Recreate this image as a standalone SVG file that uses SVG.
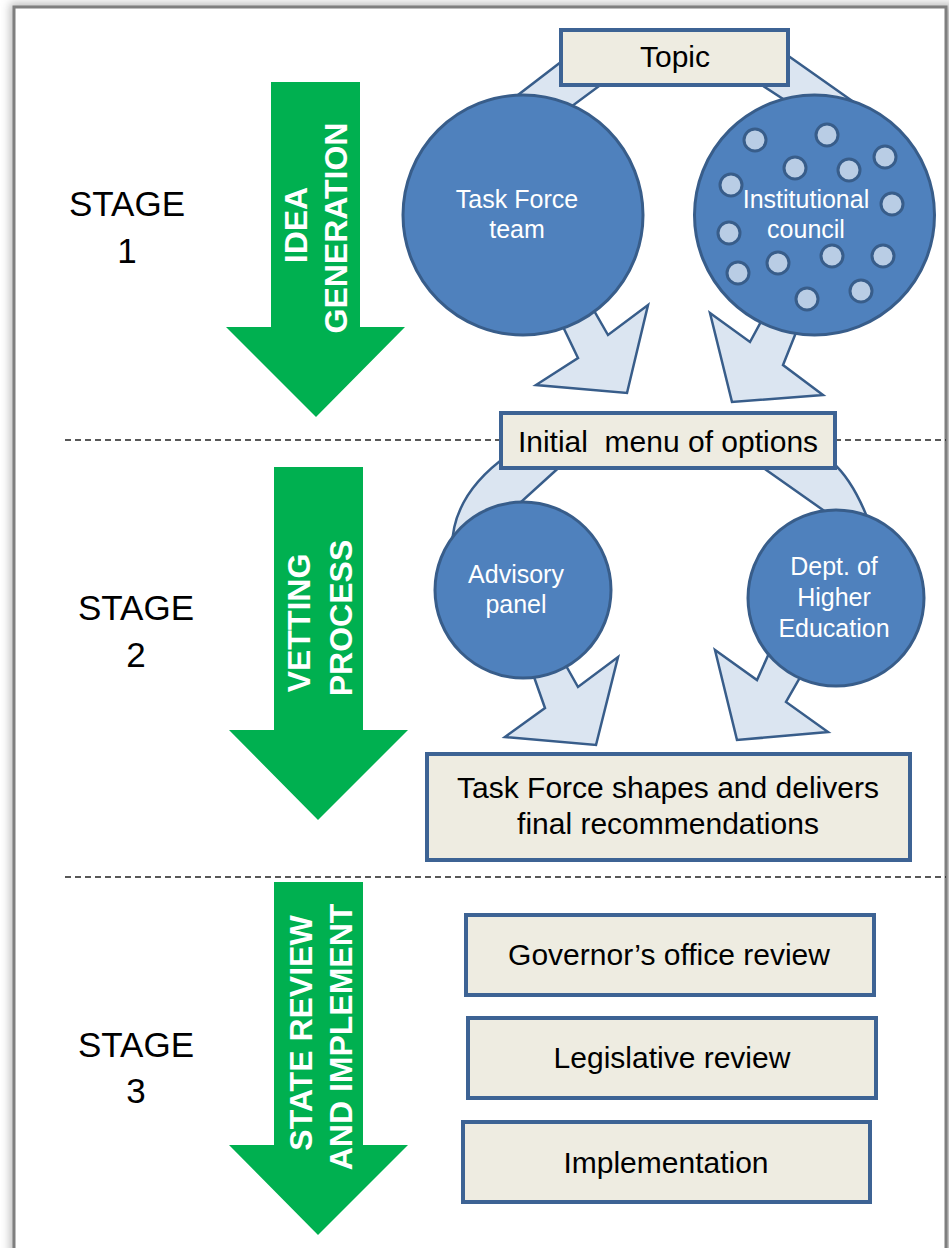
<svg xmlns="http://www.w3.org/2000/svg" width="949" height="1248" viewBox="0 0 949 1248">
<defs>
<filter id="sh" x="-5%" y="-5%" width="110%" height="110%"><feGaussianBlur stdDeviation="5"/></filter>
<style>
.stage{font-family:"Liberation Sans",Arial,sans-serif;font-size:35px;fill:#000;text-anchor:middle}
.garrow{fill:#00b050}
.gtxt{font-family:"Liberation Sans",Arial,sans-serif;font-size:32px;font-weight:bold;fill:#fff;text-anchor:middle}
.circ{fill:#4f81bd;stroke:#385d8a;stroke-width:3}
.ctxt{font-family:"Liberation Sans",Arial,sans-serif;font-size:25px;fill:#fff;text-anchor:middle}
.dot{fill:#b9cde5;stroke:#385d8a;stroke-width:3}
.box{fill:#eeece1;stroke:#3d6394;stroke-width:4}
.btxt{font-family:"Liberation Sans",Arial,sans-serif;font-size:30px;fill:#000;text-anchor:middle}
.larrow{fill:#dbe5f1;stroke:#385d8a;stroke-width:2.5;stroke-linejoin:miter}
.dash{stroke:#222;stroke-width:1.5;stroke-dasharray:6 4;fill:none}
</style>
</defs>
<rect x="0" y="0" width="949" height="1248" fill="#ffffff"/>
<rect x="10" y="3" width="945" height="1260" fill="#bbbbbb" filter="url(#sh)"/>
<path d="M14,1260 V7 H946 V1260 Z" fill="#ffffff" stroke="#7f7f7f" stroke-width="3"/>

<g id="separators">
<line class="dash" x1="65" y1="440" x2="946" y2="440"/>
<line class="dash" x1="65" y1="877" x2="946" y2="877"/>
</g>

<g id="stage1-label"><text class="stage" x="127" y="216">STAGE</text><text class="stage" x="127" y="263">1</text></g>
<g id="stage2-label"><text class="stage" x="136" y="620">STAGE</text><text class="stage" x="136" y="667">2</text></g>
<g id="stage3-label"><text class="stage" x="136" y="1057">STAGE</text><text class="stage" x="136" y="1103">3</text></g>

<g id="arrow-idea">
<path class="garrow" d="M271,82 H360 V327 H405 L316,417 L226,327 H271 Z"/>
<text class="gtxt" transform="translate(307,225) rotate(-90)">IDEA</text>
<text class="gtxt" transform="translate(347,228) rotate(-90)">GENERATION</text>
</g>
<g id="arrow-vetting">
<path class="garrow" d="M274,467 H363 V730 H408 L318,820 L229,730 H274 Z"/>
<text class="gtxt" transform="translate(310,623) rotate(-90)">VETTING</text>
<text class="gtxt" transform="translate(352,618) rotate(-90)">PROCESS</text>
</g>
<g id="arrow-state">
<path class="garrow" d="M274,882 H363 V1145 H408 L318,1235 L229,1145 H274 Z"/>
<text class="gtxt" transform="translate(312,1033) rotate(-90)">STATE REVIEW</text>
<text class="gtxt" transform="translate(352,1037) rotate(-90)">AND IMPLEMENT</text>
</g>

<g id="connectors">
<path class="larrow" d="M505,105 L570,55 L610,78 L560,115 Z"/>
<path class="larrow" d="M770,43 L865,110 L800,110 L740,71 Z"/>
<path class="larrow" d="M555,310 L578,358 L536,385 L627,393 L648,305 L608,335 L585,295 Z"/>
<path class="larrow" d="M770,305 L750,342 L710,313 L732,402 L823,395 L783,365 L805,310 Z"/>
<path class="larrow" d="M565,462 L510,512 L470,570 L452,548 Q452,495 508,455 Z"/>
<path class="larrow" d="M755,462 L832,462 Q855,482 872,530 L840,522 Z"/>
<path class="larrow" d="M560,655 L578,687 L618,657 L596,745 L505,737 L545,708 L528,660 Z"/>
<path class="larrow" d="M775,640 L757,680 L715,650 L737,740 L828,732 L786,702 L810,660 Z"/>
</g>

<g id="task-force-team">
<circle class="circ" cx="523" cy="215" r="120"/>
<text class="ctxt" x="517" y="208">Task Force</text>
<text class="ctxt" x="517" y="238">team</text>
</g>
<g id="institutional-council">
<circle class="circ" cx="814.5" cy="215" r="120"/>
<circle class="dot" cx="755" cy="140" r="11"/>
<circle class="dot" cx="827" cy="135" r="11"/>
<circle class="dot" cx="795" cy="168" r="11"/>
<circle class="dot" cx="849" cy="170" r="11"/>
<circle class="dot" cx="885" cy="157" r="11"/>
<circle class="dot" cx="731" cy="185" r="11"/>
<circle class="dot" cx="892" cy="204" r="11"/>
<circle class="dot" cx="729" cy="233" r="11"/>
<circle class="dot" cx="832" cy="256" r="11"/>
<circle class="dot" cx="778" cy="263" r="11"/>
<circle class="dot" cx="883" cy="256" r="11"/>
<circle class="dot" cx="738" cy="273" r="11"/>
<circle class="dot" cx="861" cy="291" r="11"/>
<circle class="dot" cx="807" cy="299" r="11"/>
<text class="ctxt" x="806" y="208">Institutional</text>
<text class="ctxt" x="806" y="238">council</text>
</g>
<g id="topic">
<rect class="box" x="561" y="30" width="227" height="55"/>
<text class="btxt" x="675" y="67">Topic</text>
</g>

<g id="advisory-panel">
<circle class="circ" cx="523" cy="590" r="88"/>
<text class="ctxt" x="516" y="583">Advisory</text>
<text class="ctxt" x="516" y="613">panel</text>
</g>
<g id="dept-higher-education">
<circle class="circ" cx="836" cy="598" r="88"/>
<text class="ctxt" x="834" y="575">Dept. of</text>
<text class="ctxt" x="834" y="606">Higher</text>
<text class="ctxt" x="834" y="637">Education</text>
</g>
<g id="initial-menu">
<rect class="box" x="501" y="413" width="334" height="55"/>
<text class="btxt" x="668" y="452" xml:space="preserve">Initial  menu of options</text>
</g>

<g id="final-recommendations">
<rect class="box" x="427" y="754" width="483" height="106"/>
<text class="btxt" x="668" y="798">Task Force shapes and delivers</text>
<text class="btxt" x="668" y="834">final recommendations</text>
</g>

<g id="governor-review">
<rect class="box" x="466" y="915" width="408" height="80"/>
<text class="btxt" x="669" y="965">Governor’s office review</text>
</g>
<g id="legislative-review">
<rect class="box" x="468" y="1018" width="408" height="80"/>
<text class="btxt" x="672" y="1068">Legislative review</text>
</g>
<g id="implementation">
<rect class="box" x="463" y="1122" width="407" height="80"/>
<text class="btxt" x="666" y="1173">Implementation</text>
</g>
</svg>
